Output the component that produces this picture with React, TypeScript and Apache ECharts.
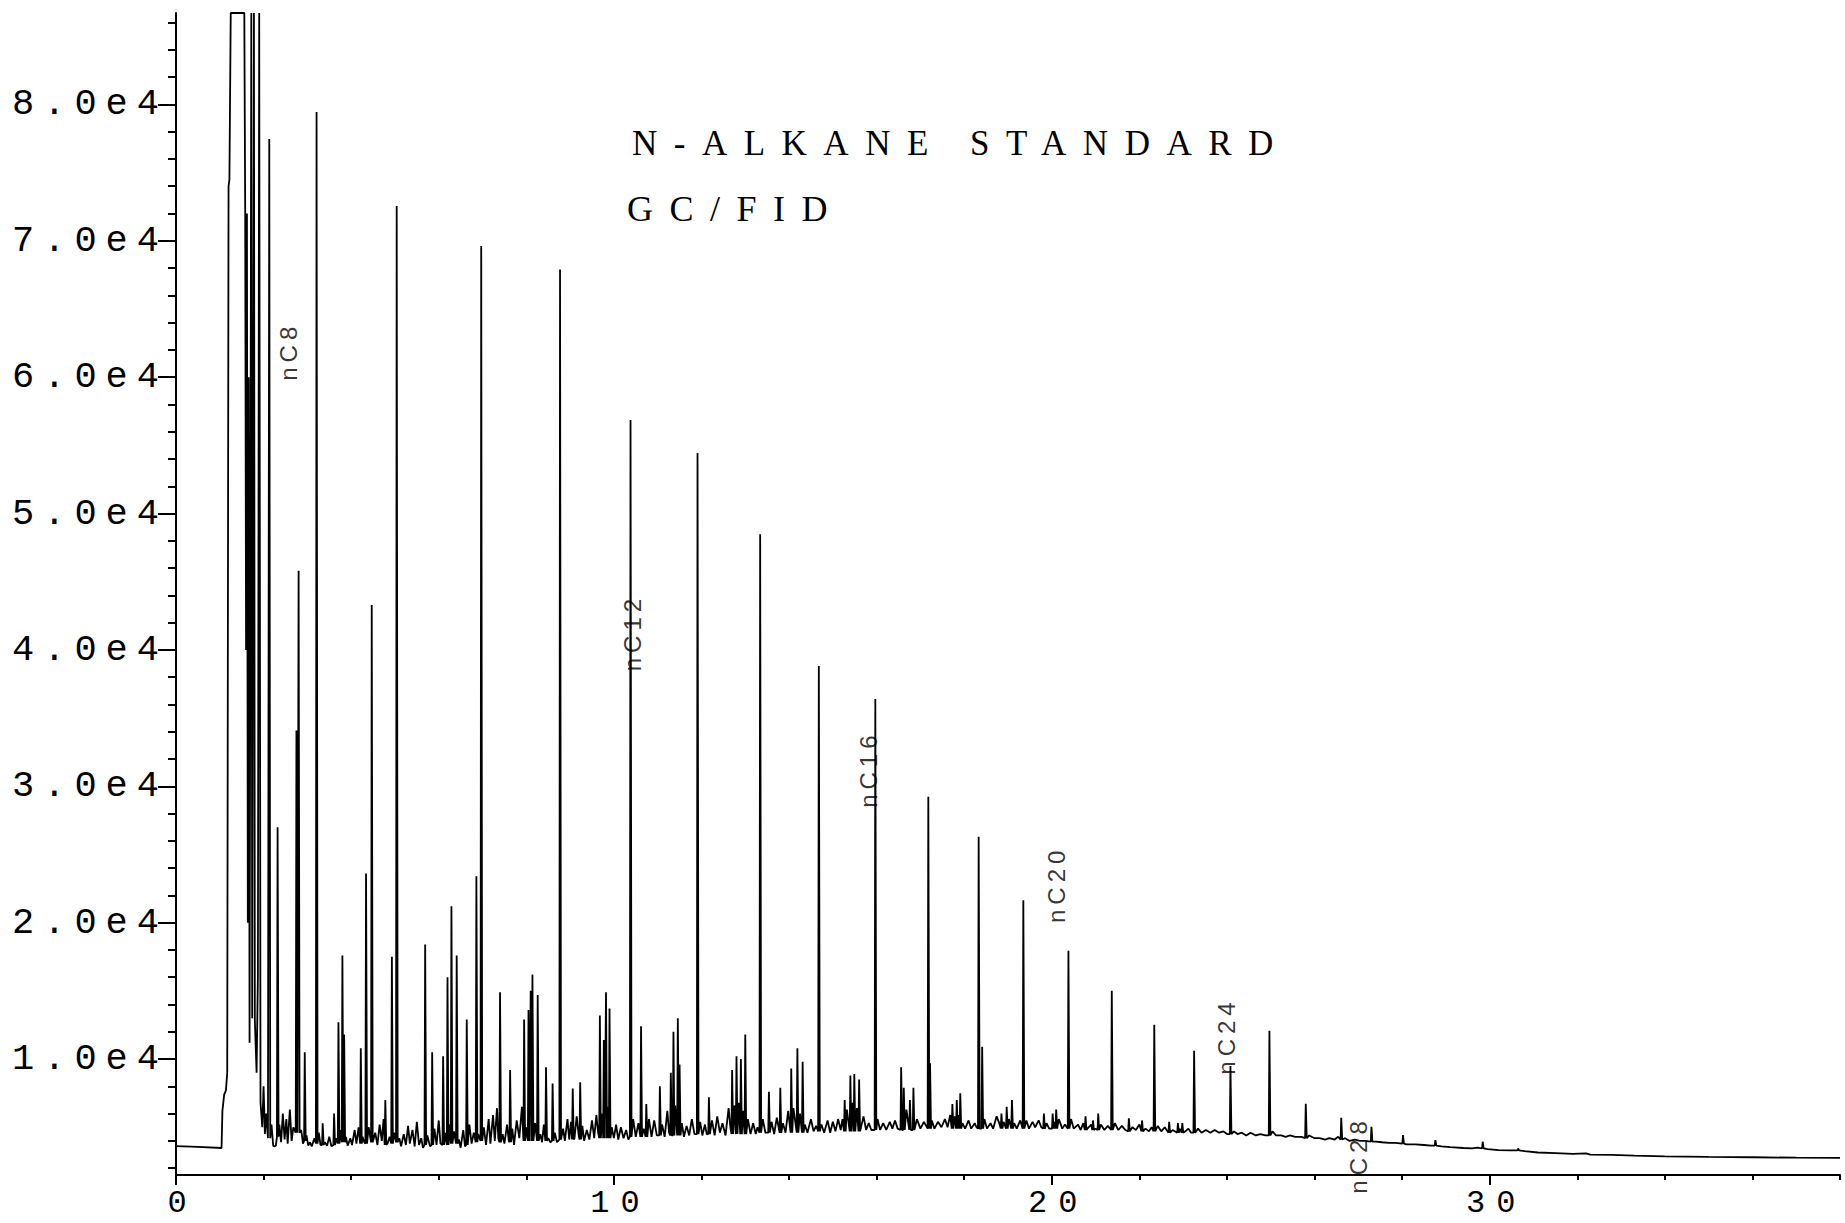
import React, { useEffect, useRef } from "react";
import * as echarts from "echarts";

// ---------- axes ----------
const X_MIN = 0;
const X_MAX = 38;
const Y_MIN = 1500;
const Y_MAX = 86700;
const xMajorTicks = [0, 10, 20, 30];
const xMinorTicks = [0, 2, 4, 6, 8, 10, 12, 14, 16, 18, 20, 22, 24, 26, 28, 30, 32, 34, 36, 38];
const yMajorTicks = [10000, 20000, 30000, 40000, 50000, 60000, 70000, 80000];
const yMinorTicks = [
  2000, 4000, 6000, 8000, 10000, 12000, 14000, 16000, 18000, 20000, 22000, 24000, 26000, 28000,
  30000, 32000, 34000, 36000, 38000, 40000, 42000, 44000, 46000, 48000, 50000, 52000, 54000,
  56000, 58000, 60000, 62000, 64000, 66000, 68000, 70000, 72000, 74000, 76000, 78000, 80000,
  82000, 84000, 86000,
];

// ---------- texts ----------
const titleLines = ["N-ALKANE STANDARD", "GC/FID"];
const labelNames = ["nC8", "nC12", "nC16", "nC20", "nC24", "nC28"];
const labelTimes = [2.58, 10.43, 15.82, 20.11, 23.99, 27.01];
const labelValues = [61900, 41270, 31260, 22810, 11690, 2970];

// ---------- signal: baseline / solvent trace [time (min), signal] ----------
const baselineTrace: [number, number][] = [
  [0, 3620], [0.5, 3560], [1.04, 3480], [1.06, 6200], [1.1, 7400], [1.14, 7700], [1.17, 9000],
  [1.2, 74000], [1.22, 74500], [1.25, 86700], [1.56, 86700], [1.58, 72300], [1.6, 40000],
  [1.62, 72000], [1.64, 20000], [1.66, 60000], [1.68, 11200], [1.72, 86700], [1.74, 13000],
  [1.78, 86700], [1.8, 12900], [1.84, 9000], [1.87, 16000], [1.9, 86700], [1.93, 6800],
  [1.97, 5000], [2.0, 8000], [2.03, 4500], [2.06, 6000], [2.1, 4200], [2.18, 5200], [2.22, 3650],
  [2.24, 3600], [2.28, 3650], [2.36, 5200], [2.4, 3900], [2.44, 6000], [2.48, 4100], [2.52, 5600],
  [2.55, 3800], [2.6, 6300], [2.64, 4000], [2.68, 5000], [2.86, 4800], [2.9, 3800], [2.98, 4400],
  [3.02, 3650], [3.06, 3900], [3.1, 3600], [3.16, 4200], [3.26, 4600], [3.3, 3700], [3.4, 3900],
  [3.45, 3650], [3.5, 4300], [3.55, 3600], [3.66, 4200], [3.75, 4800], [3.88, 4300], [3.92, 3650],
  [3.98, 4200], [4.02, 3700], [4.08, 4800], [4.12, 3800], [4.17, 5000], [4.26, 4300], [4.3, 3900],
  [4.4, 5000], [4.55, 4600], [4.6, 3700], [4.65, 5200], [4.7, 4000], [4.74, 5600], [4.83, 3800],
  [4.88, 4300], [4.98, 4600], [5.1, 4200], [5.14, 3600], [5.2, 4500], [5.25, 3700], [5.3, 5100],
  [5.34, 3800], [5.4, 4800], [5.45, 3600], [5.5, 5400], [5.55, 3700], [5.6, 4200], [5.64, 3500],
  [5.74, 4400], [5.8, 3600], [5.9, 4900], [5.95, 3700], [6.0, 5500], [6.04, 3800], [6.15, 4600],
  [6.25, 5200], [6.35, 4700], [6.46, 4100], [6.5, 3500], [6.56, 4800], [6.6, 3600], [6.7, 5200],
  [6.75, 3800], [6.8, 4600], [6.9, 4500], [7.03, 5000], [7.08, 3700], [7.14, 5600], [7.18, 3800],
  [7.24, 5900], [7.28, 4000], [7.33, 6400], [7.36, 4200], [7.46, 4500], [7.5, 3800], [7.56, 5200],
  [7.6, 4000], [7.68, 4900], [7.72, 3700], [7.78, 5500], [7.84, 4200], [7.9, 6500], [8.0, 5000],
  [8.2, 5300], [8.32, 4500], [8.36, 3900], [8.4, 5200], [8.5, 4200], [8.55, 3900], [8.65, 4600],
  [8.7, 3900], [8.84, 4900], [8.88, 4000], [8.94, 5600], [8.98, 4100], [9.02, 5400], [9.1, 4200],
  [9.15, 5800], [9.2, 4300], [9.28, 5100], [9.32, 4000], [9.38, 4800], [9.44, 4100], [9.5, 5500],
  [9.55, 4200], [9.6, 5900], [9.64, 4600], [9.74, 6000], [9.86, 6500], [9.95, 5000], [10.0, 4200],
  [10.05, 5200], [10.1, 4100], [10.16, 5000], [10.22, 4200], [10.28, 4800], [10.33, 4100],
  [10.44, 5600], [10.5, 4300], [10.56, 5300], [10.68, 4900], [10.8, 5600], [10.86, 4300],
  [10.92, 5500], [10.98, 4400], [11.1, 5200], [11.16, 4300], [11.22, 6200], [11.26, 4600],
  [11.4, 6600], [11.55, 5300], [11.6, 4300], [11.66, 5100], [11.72, 4400], [11.78, 5600],
  [11.84, 4500], [11.97, 5400], [12.02, 4400], [12.08, 5200], [12.12, 4500], [12.24, 5500],
  [12.3, 4400], [12.36, 5800], [12.42, 4600], [12.48, 5300], [12.55, 4400], [12.62, 6400],
  [12.66, 5000], [12.75, 6600], [12.85, 6800], [12.95, 6200], [13.06, 5600], [13.12, 4500],
  [13.18, 5300], [13.24, 4500], [13.28, 5000], [13.4, 5600], [13.46, 4600], [13.6, 5400],
  [13.66, 4500], [13.72, 5700], [13.86, 5300], [13.92, 4600], [13.98, 6200], [14.1, 6400],
  [14.25, 6000], [14.36, 5200], [14.42, 4600], [14.5, 5600], [14.56, 4700], [14.62, 5100],
  [14.74, 5200], [14.8, 4600], [14.88, 5500], [14.94, 4600], [15.0, 5400], [15.06, 4700],
  [15.12, 5600], [15.18, 4800], [15.22, 5600], [15.32, 6300], [15.45, 6800], [15.55, 6400],
  [15.7, 5800], [15.76, 4800], [15.82, 5300], [15.88, 4800], [16.02, 5600], [16.08, 4800],
  [16.15, 5300], [16.22, 4800], [16.3, 5400], [16.36, 4900], [16.42, 5500], [16.48, 4900],
  [16.68, 6300], [16.92, 5600], [17.0, 4900], [17.08, 5400], [17.26, 5500], [17.32, 4900],
  [17.4, 5400], [17.48, 5000], [17.56, 5600], [17.62, 5000], [17.68, 5900], [17.78, 5800],
  [17.87, 5900], [17.96, 5300], [18.02, 4900], [18.1, 5500], [18.16, 4900], [18.24, 5300],
  [18.28, 5000], [18.46, 5600], [18.52, 4900], [18.6, 5300], [18.66, 4900], [18.74, 5800],
  [18.8, 5300], [18.9, 5400], [19.02, 5600], [19.14, 5300], [19.2, 4900], [19.28, 5500],
  [19.42, 5500], [19.48, 4900], [19.56, 5400], [19.62, 5000], [19.7, 5500], [19.76, 5000],
  [19.88, 5300], [19.94, 4900], [20.06, 5400], [20.16, 5600], [20.24, 4900], [20.3, 5200],
  [20.44, 5600], [20.5, 4900], [20.6, 5200], [20.66, 4800], [20.72, 5300], [20.84, 5000],
  [20.9, 5200], [21.0, 4900], [21.12, 5200], [21.2, 4800], [21.28, 5100], [21.44, 5300],
  [21.52, 4800], [21.6, 5100], [21.68, 4800], [21.84, 5000], [21.92, 4800], [22.0, 5200],
  [22.14, 4900], [22.22, 4700], [22.28, 5000], [22.42, 5100], [22.5, 4700], [22.58, 5000],
  [22.76, 4800], [22.92, 4900], [23.05, 4700], [23.12, 4900], [23.18, 4600], [23.34, 4900],
  [23.42, 4600], [23.52, 4800], [23.62, 4600], [23.72, 4800], [23.82, 4600], [23.92, 4700],
  [24.0, 4500], [24.16, 4700], [24.24, 4500], [24.34, 4600], [24.44, 4400], [24.54, 4600],
  [24.66, 4400], [24.76, 4500], [24.88, 4400], [25.04, 4700], [25.12, 4400], [25.24, 4400],
  [25.34, 4300], [25.44, 4400], [25.56, 4300], [25.7, 4300], [25.88, 4400], [26.0, 4200],
  [26.12, 4200], [26.24, 4100], [26.34, 4200], [26.46, 4100], [26.54, 4300], [26.7, 4200],
  [26.8, 4000], [26.92, 4100], [27.04, 4000], [27.16, 4000], [27.4, 3950], [27.54, 3900],
  [27.7, 3850], [27.85, 3850], [28.1, 3750], [28.3, 3750], [28.5, 3700], [28.66, 3650],
  [28.9, 3600], [29.1, 3550], [29.4, 3480], [29.6, 3450], [29.72, 3500], [29.95, 3400],
  [30.2, 3330], [30.5, 3300], [30.8, 3250], [31.1, 3150], [31.5, 3100], [31.9, 3050],
  [32.2, 3080], [32.3, 3000], [32.8, 2980], [33.3, 2920], [34.0, 2870], [35.0, 2830],
  [36.0, 2800], [37.0, 2770], [38.0, 2750],
];

// ---------- n-alkane peaks [time, apex, foot] ----------
const alkanePeaks: [number, number, number][] = [
  [2.13, 77460, 4200], [3.21, 79440, 3800], [5.04, 72540, 3900], [6.97, 69610, 4000],
  [8.77, 67890, 4100], [10.38, 56850, 4300], [11.91, 54430, 4500], [13.34, 48480, 4600],
  [14.68, 38820, 4700], [15.97, 36400, 4800], [17.18, 29240, 4900], [18.33, 26310, 4900],
  [19.35, 21650, 4900], [20.38, 17940, 4900], [21.37, 15010, 4800], [22.34, 12510, 4700],
  [23.25, 10610, 4600], [24.08, 9500, 4500], [24.97, 12080, 4400], [25.8, 6730, 4200],
  [26.61, 5690, 4100], [27.3, 5040, 3950], [28.02, 4430, 3800], [28.76, 4060, 3650],
  [29.84, 3940, 3450], [30.65, 3450, 3300],
];

// ---------- other resolved peaks [time, apex, foot] ----------
const minorPeaks: [number, number, number][] = [
  [2.32, 27000, 4300], [2.75, 34100, 4600], [2.8, 45800, 4600], [2.94, 10500, 4000],
  [3.35, 5300, 3700], [3.61, 6000, 3700], [3.71, 12700, 3800], [3.8, 17600, 3900],
  [3.84, 11800, 3900], [4.22, 10800, 3800], [4.34, 23600, 3800], [4.47, 43300, 3900],
  [4.78, 7000, 3700], [4.93, 17500, 3800], [5.69, 18400, 3700], [5.85, 10500, 3700],
  [6.1, 10200, 3700], [6.2, 16000, 3700], [6.29, 21200, 3800], [6.41, 17600, 3800],
  [6.64, 12900, 3700], [6.86, 23400, 3900], [7.4, 14900, 3900], [7.63, 9200, 3900],
  [7.95, 12900, 4000], [8.05, 13600, 4000], [8.1, 15000, 4000], [8.14, 16200, 4000],
  [8.26, 14700, 4000], [8.45, 9400, 4000], [8.6, 8200, 4000], [9.06, 7850, 4100],
  [9.23, 8300, 4100], [9.68, 13200, 4200], [9.77, 11400, 4200], [9.82, 14900, 4200],
  [9.9, 13700, 4200], [10.62, 12400, 4300], [10.74, 6700, 4300], [11.05, 8000, 4400],
  [11.3, 9000, 4400], [11.36, 12000, 4400], [11.46, 13000, 4400], [11.5, 9600, 4400],
  [12.17, 7200, 4500], [12.7, 9200, 4500], [12.8, 10200, 4500], [12.9, 10000, 4500],
  [13.0, 11800, 4500], [13.54, 7600, 4600], [13.8, 7900, 4600], [14.05, 9300, 4600],
  [14.19, 10800, 4600], [14.31, 9800, 4600], [15.27, 7000, 4700], [15.4, 8800, 4700],
  [15.49, 8900, 4700], [15.6, 8500, 4700], [16.56, 9400, 4800], [16.62, 7900, 4800],
  [16.76, 7000, 4800], [16.84, 7900, 4800], [17.22, 9700, 4900], [17.73, 6700, 4900],
  [17.83, 7000, 4900], [17.91, 7500, 4900], [18.41, 10900, 4900], [18.85, 6000, 4900],
  [18.97, 6500, 4900], [19.09, 7000, 4900], [19.82, 6000, 4900], [20.02, 6000, 4900],
  [20.1, 6300, 4900], [20.77, 5800, 4800], [20.94, 5500, 4800], [21.06, 6000, 4800],
  [21.76, 5650, 4700], [22.06, 5500, 4700], [22.68, 5400, 4600], [22.88, 5300, 4600],
  [22.98, 5300, 4600],
];

const PEAK_LEFT = 0.015;
const PEAK_RIGHT = 0.022;

function buildTrace(): [number, number][] {
  const pts: [number, number][] = baselineTrace.map((p) => [p[0], p[1]] as [number, number]);
  for (const [t, apex, foot] of alkanePeaks.concat(minorPeaks)) {
    pts.push([t - PEAK_LEFT, foot], [t, apex], [t + PEAK_RIGHT, foot]);
  }
  pts.sort((a, b) => a[0] - b[0]);
  return pts;
}

const css = `
.gc-chart text[style*="Liberation Mono"], .gc-chart text[font-family*="Liberation Mono"] { letter-spacing: 9px; }
.gc-chart text[style*="Liberation Mono"][text-anchor="middle"], .gc-chart text[font-family*="Liberation Mono"][text-anchor="middle"] { letter-spacing: 11px; }
.gc-chart text[style*="Liberation Serif"], .gc-chart text[font-family*="Liberation Serif"] { letter-spacing: 16.5px; }
.gc-chart text[style*="Liberation Sans"], .gc-chart text[font-family*="Liberation Sans"] { letter-spacing: 5px; }
`;

export default function App() {
  const ref = useRef<HTMLDivElement>(null);

  useEffect(() => {
    if (!ref.current) return;
    const chart = echarts.init(ref.current, null, { renderer: "svg" });
    const tickFont = { fontFamily: "Liberation Mono", fontSize: 37, color: "#000" };
    const titleFont = { fontFamily: "Liberation Serif", fontSize: 35, fontWeight: "normal" as const, color: "#000" };
    const black = { color: "#000", width: 2 };

    chart.setOption({
      animation: false,
      backgroundColor: "#fff",
      title: [
        { text: titleLines[0], left: 632, top: 126, padding: 0, textStyle: titleFont },
        { text: titleLines[1], left: 627, top: 191, padding: 0, textStyle: { ...titleFont, fontSize: 36 } },
      ],
      grid: { left: 176, top: 13, right: 5, bottom: 48, containLabel: false },
      xAxis: [
        {
          type: "value", min: X_MIN, max: X_MAX, position: "bottom",
          axisLine: { show: true, onZero: false, lineStyle: black },
          axisTick: { show: true, customValues: xMajorTicks, length: 10, lineStyle: black },
          axisLabel: {
            show: true, customValues: xMajorTicks, margin: 14, lineHeight: 28,
            padding: [0, 0, 0, 13], ...tickFont, fontSize: 32,
          },
          splitLine: { show: false },
        },
        {
          type: "value", min: X_MIN, max: X_MAX, position: "bottom", offset: 0,
          axisLine: { show: false, onZero: false },
          axisTick: { show: true, customValues: xMinorTicks, length: 5, lineStyle: black },
          axisLabel: { show: false },
          splitLine: { show: false },
        },
      ],
      yAxis: [
        {
          type: "value", min: Y_MIN, max: Y_MAX, position: "left",
          axisLine: { show: true, onZero: false, lineStyle: black },
          axisTick: { show: true, customValues: yMajorTicks, length: 18, lineStyle: black },
          axisLabel: {
            show: true, customValues: yMajorTicks, margin: 8, ...tickFont,
            formatter: (v: number) => (v / 10000).toFixed(1) + "e4",
          },
          splitLine: { show: false },
        },
        {
          type: "value", min: Y_MIN, max: Y_MAX, position: "left", offset: 0,
          axisLine: { show: false, onZero: false },
          axisTick: { show: true, customValues: yMinorTicks, length: 8, lineStyle: black },
          axisLabel: { show: false },
          splitLine: { show: false },
        },
      ],
      series: [
        {
          type: "line",
          data: buildTrace(),
          xAxisIndex: 0,
          yAxisIndex: 0,
          showSymbol: false,
          symbol: "none",
          clip: true,
          silent: true,
          lineStyle: { color: "#000", width: 1.8 },
        },
        {
          type: "scatter",
          xAxisIndex: 0,
          yAxisIndex: 0,
          symbolSize: 0.1,
          silent: true,
          itemStyle: { color: "rgba(0,0,0,0)" },
          data: labelNames.map((n, i) => ({ name: n, value: [labelTimes[i], labelValues[i]] })),
          label: {
            show: true,
            position: "inside",
            rotate: 90,
            formatter: (p: any) => p.name,
            fontFamily: "Liberation Sans",
            fontSize: 24,
            color: "#000",
          },
        },
      ],
    });
    return () => chart.dispose();
  }, []);

  return (
    <>
      <style>{css}</style>
      <div
        ref={ref}
        className="gc-chart"
        style={{ position: "fixed", left: 0, top: 0, width: 1845, height: 1223, background: "#fff" }}
      />
    </>
  );
}
